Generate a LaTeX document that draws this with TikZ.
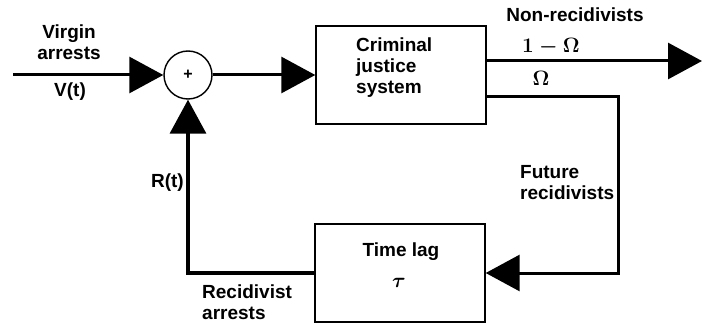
\documentclass[tikz,border=0pt]{standalone}
\usepackage{fontspec}
\setmainfont{Liberation Sans}
\usetikzlibrary{arrows.meta}

\tikzset{
  blk/.style={draw, line width=1.4pt, minimum width=170pt, minimum height=98pt},
  junc/.style={draw, circle, line width=1.4pt, minimum size=48pt, inner sep=0pt},
  flow/.style={line width=3pt, -{Triangle[length=34pt,width=36pt]}},
  lbl/.style={font=\fontsize{19}{21}\selectfont\bfseries, inner sep=0pt},
  mth/.style={font=\fontsize{20}{24}\selectfont\boldmath, inner sep=0pt},
}

\begin{document}
\begin{tikzpicture}[x=1pt, y=-1pt]
    \useasboundingbox (0,0) rectangle (702,326);

    % Blocos
    \node[junc, font=\fontsize{16}{20}\selectfont\bfseries] (sum) at (188,75) {+};
    \node[blk] (cjs) at (401,75) {};
    \node[blk] (lag) at (400,273) {};

    % Pontos livres
    \coordinate (in) at (13,75);
    \coordinate (out) at (702,61);
    \coordinate (back) at (618,97);

    % Ramo direto
    \draw[flow] (in) -- (sum.west);
    \draw[flow] (sum.east) -- (cjs.west);
    \draw[flow] (cjs.east |- out) -- (out);

    % Realimentacao
    \draw[flow] (cjs.east |- back) -- (back) |- (lag.east);
    \draw[flow, line width=3.5pt] (lag.west) -| (sum.south);

    % Textos
    \node[lbl, align=left, anchor=west] (cjstxt) at (356,68) {Criminal\\justice\\system};
    \node[lbl, align=center] (lagtxt) at (401,252) {Time lag};
    \node[mth] (tau) at (399,283) {$\tau$};
    \node[lbl, align=center] (vtxt) at (69,42) {Virgin\\arrests};
    \node[lbl] (vt) at (70,92) {V(t)};
    \node[lbl] (nonrec) at (575,15) {Non-recidivists};
    \node[mth] (oneminus) at (551,47) {$1-\Omega$};
    \node[mth] (omega) at (541,78) {$\Omega$};
    \node[lbl, align=left, anchor=west] (futtxt) at (520,183) {Future\\recidivists};
    \node[lbl, anchor=east] (rt) at (184,183) {R(t)};
    \node[lbl, align=left, anchor=west] (rectxt) at (202,302) {Recidivist\\arrests};

\end{tikzpicture}
\end{document}
